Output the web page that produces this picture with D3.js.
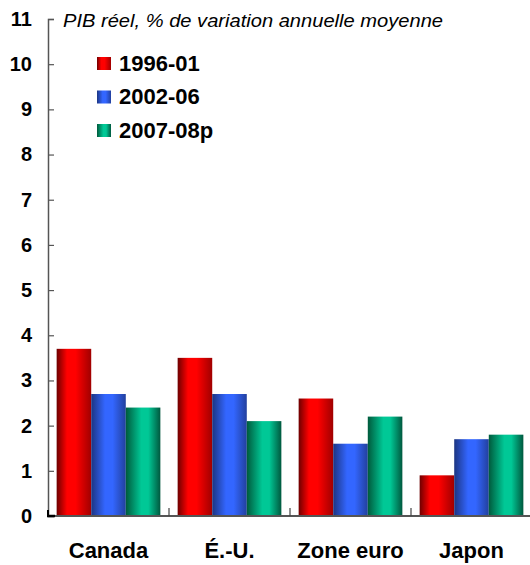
<!DOCTYPE html>
<html>
<head>
<meta charset="utf-8">
<script src="https://cdn.jsdelivr.net/npm/d3@7"></script>
<style>
  html, body { margin: 0; padding: 0; background: #fff; }
  svg { display: block; font-family: Arial, "Liberation Sans", sans-serif; }
</style>
</head>
<body>
<svg id="chart" width="530" height="565"></svg>
<script>
// Real GDP, average annual % change
const categories = ["Canada", "É.-U.", "Zone euro", "Japon"];
const seriesNames = ["1996-01", "2002-06", "2007-08p"];
const s1996_01 = [3.7, 3.5, 2.6, 0.9];
const s2002_06 = [2.7, 2.7, 1.6, 1.7];
const s2007_08p = [2.4, 2.1, 2.2, 1.8];
const yTicks = [0, 1, 2, 3, 4, 5, 6, 7, 8, 9, 10, 11];
const titleText = "PIB réel, % de variation annuelle moyenne";

const seriesValues = [s1996_01, s2002_06, s2007_08p];

const svg = d3.select("#chart");
const plotLeft = 48, plotRight = 532, plotTop = 19, plotBottom = 516;

const y = d3.scaleLinear().domain([0, 11]).range([plotBottom, plotTop]);
const x0 = d3.scaleBand().domain(categories).range([plotLeft, plotRight]).padding(0);
const x1 = d3.scaleBand().domain(seriesNames).range([0, x0.bandwidth()])
  .paddingInner(0).paddingOuter(0.25);

// Cylinder-like horizontal shading for each series
const gradStops = [
  [["0%", "#6e0000"], ["30%", "#ff0000"], ["55%", "#ff0000"], ["100%", "#a00000"]],
  [["0%", "#1c3582"], ["40%", "#3366ff"], ["62%", "#3366ff"], ["100%", "#22409e"]],
  [["0%", "#005a3c"], ["45%", "#00c896"], ["65%", "#00c896"], ["100%", "#00583e"]]
];
const defs = svg.append("defs");
gradStops.forEach((stops, i) => {
  const g = defs.append("linearGradient").attr("id", "grad" + i)
    .attr("x1", "0%").attr("x2", "100%").attr("y1", "0%").attr("y2", "0%");
  stops.forEach(([o, c]) => g.append("stop").attr("offset", o).attr("stop-color", c));
});

// Bars
const groups = svg.append("g").selectAll("g")
  .data(categories).join("g")
  .attr("transform", d => `translate(${x0(d)},0)`);
groups.selectAll("rect")
  .data((c, ci) => seriesNames.map((s, si) => ({ s, si, v: seriesValues[si][ci] })))
  .join("rect")
  .attr("x", d => x1(d.s))
  .attr("width", x1.bandwidth())
  .attr("y", d => y(d.v))
  .attr("height", d => y(0) - y(d.v))
  .attr("fill", d => `url(#grad${d.si})`);

// Y axis
const yAxis = d3.axisLeft(y).tickValues(yTicks).tickSize(-6).tickPadding(16).tickFormat(d3.format("d"));
const yg = svg.append("g").attr("transform", `translate(${plotLeft},0)`).call(yAxis);
yg.select(".domain").attr("stroke", "#555").attr("stroke-width", 1.5);
yg.selectAll(".tick line").attr("stroke", "#555").attr("stroke-width", 1.2);
yg.selectAll(".tick text")
  .attr("font-size", 20).attr("font-weight", "bold").attr("fill", "#000")
  .attr("font-family", "Arial, 'Liberation Sans', sans-serif");

// X axis baseline with category separators
const xg = svg.append("g");
xg.append("line")
  .attr("x1", plotLeft).attr("x2", 530).attr("y1", y(0)).attr("y2", y(0))
  .attr("stroke", "#555").attr("stroke-width", 2);
xg.selectAll("line.sep")
  .data(categories.slice(1)).join("line").attr("class", "sep")
  .attr("x1", d => x0(d)).attr("x2", d => x0(d))
  .attr("y1", y(0)).attr("y2", y(0) - 8)
  .attr("stroke", "#444").attr("stroke-width", 1.2);
xg.append("line")
  .attr("x1", plotLeft - 1).attr("x2", plotLeft + 7).attr("y1", y(0)).attr("y2", y(0))
  .attr("stroke", "#000").attr("stroke-width", 2.5);
xg.append("line")
  .attr("x1", plotLeft).attr("x2", plotLeft).attr("y1", y(0) - 6).attr("y2", y(0) + 1)
  .attr("stroke", "#000").attr("stroke-width", 2);

xg.selectAll("text.cat")
  .data(categories).join("text").attr("class", "cat")
  .attr("x", d => x0(d) + x0.bandwidth() / 2)
  .attr("y", 558)
  .attr("text-anchor", "middle")
  .attr("font-size", 22).attr("font-weight", "bold")
  .text(d => d);

// Title
svg.append("text")
  .attr("x", 63).attr("y", 27)
  .attr("font-size", 19).attr("font-style", "italic")
  .attr("textLength", 380).attr("lengthAdjust", "spacingAndGlyphs")
  .text(titleText);

// Legend
const legend = svg.append("g").selectAll("g")
  .data(seriesNames).join("g")
  .attr("transform", (d, i) => `translate(97,${57 + i * 33.5})`);
legend.append("rect")
  .attr("width", 14).attr("height", 13)
  .attr("fill", (d, i) => `url(#grad${i})`);
legend.append("text")
  .attr("x", 22).attr("y", 13.5)
  .attr("font-size", 22).attr("font-weight", "bold")
  .text(d => d);
</script>
</body>
</html>
